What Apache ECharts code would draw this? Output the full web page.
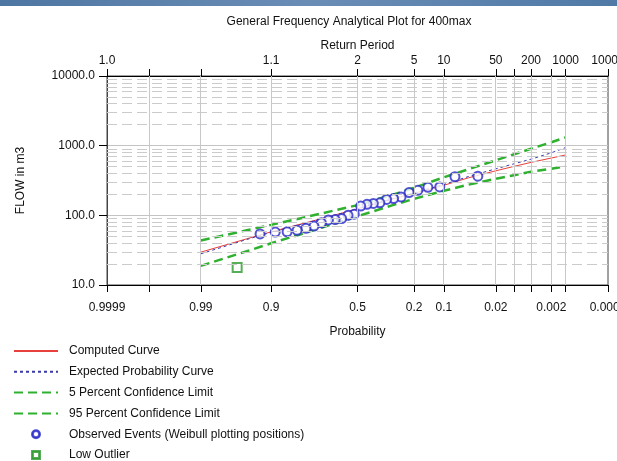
<!DOCTYPE html>
<html>
<head>
<meta charset="utf-8">
<script src="https://cdn.jsdelivr.net/npm/echarts@6/dist/echarts.min.js"></script>
<style>
  html, body { margin: 0; padding: 0; background: #fff; }
  #chart { width: 617px; height: 461px; }
</style>
</head>
<body>
<div id="chart"></div>
<script>
// probability axis ticks (exceedance probability) and their labels
const probTicks = [0.9999, 0.999, 0.99, 0.9, 0.5, 0.2, 0.1, 0.02, 0.01, 0.005, 0.002, 0.001, 0.0001];
const probLabels = ['0.9999', '', '0.99', '0.9', '0.5', '0.2', '0.1', '0.02', '', '', '0.002', '', '0.0001'];
const returnLabels = ['1.0', '', '', '1.1', '2', '5', '10', '50', '', '200', '', '1000', '10000'];

// horizontal minor grid (dashed)
const minorGrid = [20, 30, 40, 50, 60, 70, 80, 90, 200, 300, 400, 500, 600, 700, 800, 900,
  2000, 3000, 4000, 5000, 6000, 7000, 8000, 9000];

// curves
const curveProb = [0.99, 0.95, 0.9, 0.8, 0.7, 0.5, 0.3, 0.2, 0.1, 0.05, 0.02, 0.01, 0.005, 0.002, 0.001];
const computed = [29.6, 46, 58, 75, 90, 124, 172, 207, 270, 345, 436, 505, 575, 665, 735];
const expected = [28, 45, 57, 74, 89, 124, 174, 210, 277, 360, 465, 550, 640, 790, 940];
const upper5 = [43.5, 61, 73, 91, 107, 140, 198, 249, 352, 458, 617, 753, 902, 1119, 1318];
const lower95 = [18.8, 30.5, 39.8, 53.6, 67, 97, 140, 173, 225, 275, 335, 376, 423, 467, 506];

// observed events, Weibull plotting positions
const obsProb = [0.037, 0.074, 0.111, 0.148, 0.185, 0.222, 0.259, 0.296, 0.333, 0.370, 0.407, 0.444, 0.481,
  0.519, 0.556, 0.593, 0.630, 0.667, 0.704, 0.741, 0.778, 0.815, 0.852, 0.889, 0.926];
const obsFlow = [365, 358, 256, 252, 229, 212, 184, 174, 169, 151, 148, 144, 136,
  104, 100, 90, 87, 86, 78, 70, 65, 61, 58, 57.5, 54];
const lowProb = [0.963];
const lowFlow = [17.8];

// inverse standard normal (Acklam) - used as the probability scale
function qnorm(p) {
  const a = [-3.969683028665376e+01, 2.209460984245205e+02, -2.759285104469687e+02, 1.383577518672690e+02, -3.066479806614716e+01, 2.506628277459239e+00];
  const b = [-5.447609879822406e+01, 1.615858368580409e+02, -1.556989798598866e+02, 6.680131188771972e+01, -1.328068155288572e+01];
  const c = [-7.784894002430293e-03, -3.223964580411365e-01, -2.400758277161838e+00, -2.549732539343734e+00, 4.374664141464968e+00, 2.938163982698783e+00];
  const d = [7.784695709041462e-03, 3.224671290700398e-01, 2.445134137142996e+00, 3.754408661907416e+00];
  const pl = 0.02425;
  let q, r;
  if (p < pl) {
    q = Math.sqrt(-2 * Math.log(p));
    return (((((c[0]*q+c[1])*q+c[2])*q+c[3])*q+c[4])*q+c[5]) / ((((d[0]*q+d[1])*q+d[2])*q+d[3])*q+1);
  }
  if (p > 1 - pl) {
    q = Math.sqrt(-2 * Math.log(1 - p));
    return -(((((c[0]*q+c[1])*q+c[2])*q+c[3])*q+c[4])*q+c[5]) / ((((d[0]*q+d[1])*q+d[2])*q+d[3])*q+1);
  }
  q = p - 0.5; r = q * q;
  return (((((a[0]*r+a[1])*r+a[2])*r+a[3])*r+a[4])*r+a[5])*q / (((((b[0]*r+b[1])*r+b[2])*r+b[3])*r+b[4])*r+1);
}
const px = p => 0 - qnorm(p) + 0;

const tickPos = probTicks.map(px);
const xMin = tickPos[0];
const xMax = tickPos[tickPos.length - 1];

function labelFor(list) {
  return function (v) {
    for (let i = 0; i < tickPos.length; i++) {
      if (Math.abs(tickPos[i] - v) < 1e-6) return list[i];
    }
    return '';
  };
}

const pairs = (ps, vs) => ps.map((p, i) => [px(p), vs[i]]);

const chart = echarts.init(document.getElementById('chart'));
const font = 'Liberation Sans, Arial, sans-serif';
const green = '#2fb12f';
const hidden = { opacity: 0 };

const option = {
  animation: false,
  backgroundColor: '#fff',
  textStyle: { fontFamily: font },
  graphic: [{
    type: 'rect',
    shape: { x: 0, y: 0, width: 617, height: 6 },
    style: {
      fill: new echarts.graphic.LinearGradient(0, 0, 1, 0, [
        { offset: 0, color: '#4e76a2' }, { offset: 0.5, color: '#6a8db6' }, { offset: 1, color: '#5079a6' }
      ])
    },
    silent: true
  }],
  title: {
    text: 'General Frequency Analytical Plot for 400max',
    left: 344, top: 11, textAlign: 'center',
    textStyle: { fontSize: 12, fontWeight: 'normal', color: '#111', fontFamily: font }
  },
  grid: {
    left: 107, right: 9, top: 76, bottom: 176,
    outerBoundsMode: 'none', containLabel: false,
    show: true, borderColor: '#444', borderWidth: 1, backgroundColor: 'transparent'
  },
  legend: {
    orient: 'vertical', left: 13, top: 345, padding: 0,
    itemWidth: 44, itemHeight: 8, itemGap: 8.8,
    textStyle: { fontSize: 12, lineHeight: 12, color: '#111', padding: [0, 0, 0, 6], fontFamily: font },
    data: [
      { name: 'Computed Curve', itemStyle: hidden },
      { name: 'Expected Probability Curve', itemStyle: hidden },
      { name: '5 Percent Confidence Limit', itemStyle: hidden },
      { name: '95 Percent Confidence Limit', itemStyle: hidden },
      { name: 'Observed Events (Weibull plotting positions)', icon: 'path://M5,0A5,5 0 1 1 4.99,0z M5,1.1A3.9,3.9 0 1 0 5.01,1.1z' },
      { name: 'Low Outlier', icon: 'path://M0,0h10v10h-10z M1.2,1.2v7.6h7.6v-7.6z' }
    ]
  },
  xAxis: [{
    type: 'value', position: 'bottom', min: xMin, max: xMax,
    name: 'Probability', nameLocation: 'middle', nameGap: 41,
    nameTextStyle: { fontSize: 12, color: '#111', fontFamily: font },
    axisLine: { onZero: false, lineStyle: { color: '#000', width: 1 } },
    axisTick: { show: true, length: 7, customValues: tickPos, lineStyle: { color: '#000' } },
    axisLabel: { customValues: tickPos, formatter: labelFor(probLabels), margin: 17, fontSize: 12, color: '#111', fontFamily: font },
    splitLine: { show: false }
  }, {
    type: 'value', position: 'top', min: xMin, max: xMax,
    name: 'Return Period', nameLocation: 'middle', nameGap: 24,
    nameTextStyle: { fontSize: 12, color: '#111', fontFamily: font },
    axisLine: { onZero: false, lineStyle: { color: '#000', width: 1 } },
    axisTick: { show: true, length: 7, customValues: tickPos, lineStyle: { color: '#000' } },
    axisLabel: { customValues: tickPos, formatter: labelFor(returnLabels), margin: 9, fontSize: 12, color: '#111', fontFamily: font },
    splitLine: { show: false }
  }],
  yAxis: {
    type: 'log', logBase: 10, min: 10, max: 10000, position: 'left',
    name: 'FLOW in m3', nameLocation: 'middle', nameGap: 80, nameRotate: 90,
    nameTextStyle: { fontSize: 12, color: '#111', fontFamily: font },
    axisLine: { show: true, onZero: false, lineStyle: { color: '#444' } },
    axisTick: { show: true, length: 8, lineStyle: { color: '#000' } },
    axisLabel: { formatter: v => v.toFixed(1), margin: 12, fontSize: 12, color: '#111', fontFamily: font },
    splitLine: { show: true, lineStyle: { color: '#c4c4c4', width: 1 } }
  },
  series: [
    {
      name: 'grid', type: 'scatter', data: [], z: 1, silent: true,
      markLine: {
        silent: true, symbol: ['none', 'none'], label: { show: false }, animation: false,
        data: minorGrid.map(v => ({ yAxis: v, lineStyle: { color: '#cbcbcb', type: [10, 5], width: 1 } }))
          .concat(tickPos.slice(1, -1).map(v => ({ xAxis: v, lineStyle: { color: '#c8c8c8', type: 'solid', width: 1 } })))
      }
    },
    {
      name: 'Computed Curve', type: 'line', symbol: 'none', z: 3,
      lineStyle: { color: '#e8403c', width: 1 }, itemStyle: { color: '#e8403c' },
      data: pairs(curveProb, computed)
    },
    {
      name: 'Expected Probability Curve', type: 'line', symbol: 'none', z: 3,
      lineStyle: { color: '#3a3aa8', width: 1, type: [3, 3] }, itemStyle: { color: '#3a3aa8' },
      data: pairs(curveProb, expected)
    },
    {
      name: '5 Percent Confidence Limit', type: 'line', symbol: 'none', z: 3,
      lineStyle: { color: green, width: 2.5, type: [9, 5] }, itemStyle: { color: green },
      data: pairs(curveProb, upper5)
    },
    {
      name: '95 Percent Confidence Limit', type: 'line', symbol: 'none', z: 3,
      lineStyle: { color: green, width: 2.5, type: [9, 5] }, itemStyle: { color: green },
      data: pairs(curveProb, lower95)
    },
    {
      name: 'Observed Events (Weibull plotting positions)', type: 'scatter', symbol: 'emptyCircle', symbolSize: 9, z: 4,
      itemStyle: { color: '#2828c8', borderColor: '#2828c8', borderWidth: 1.1 },
      data: pairs(obsProb, obsFlow)
    },
    {
      name: 'Low Outlier', type: 'scatter', symbol: 'emptyRect', symbolSize: 9, z: 4,
      itemStyle: { color: '#2e9a2e', borderColor: '#2e9a2e', borderWidth: 1.1 },
      data: pairs(lowProb, lowFlow)
    }
  ]
};

chart.setOption(option);
</script>
</body>
</html>
